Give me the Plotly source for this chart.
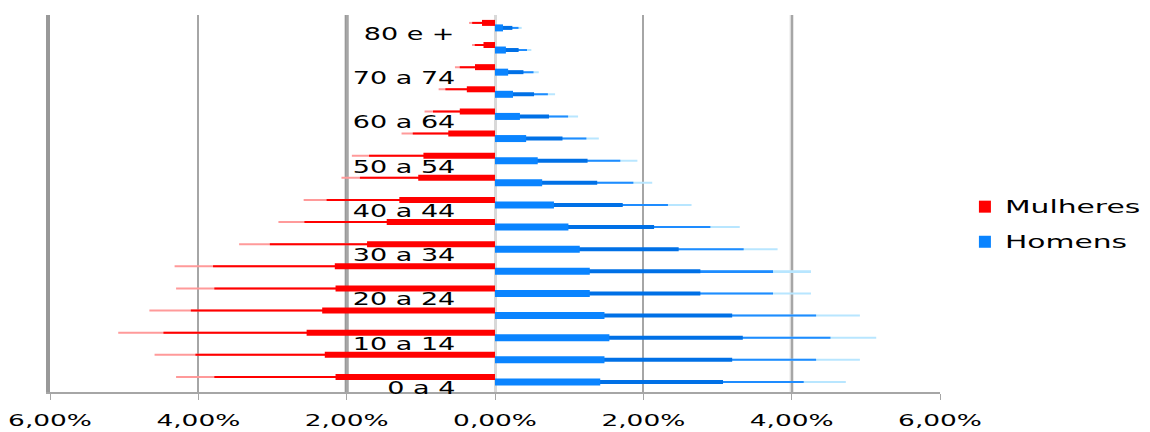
import plotly.graph_objects as go

# Age groups, bottom to top
faixas = ["0 a 4", "5 a 9", "10 a 14", "15 a 19", "20 a 24", "25 a 29", "30 a 34",
          "35 a 39", "40 a 44", "45 a 49", "50 a 54", "55 a 59", "60 a 64",
          "65 a 69", "70 a 74", "75 a 79", "80 e +"]
# Share of total population (%)
mulheres = [4.30, 4.59, 5.08, 4.66, 4.30, 4.32, 3.45, 2.92, 2.58, 2.07,
            1.93, 1.26, 0.95, 0.76, 0.54, 0.31, 0.35]
homens = [4.73, 4.92, 5.14, 4.92, 4.26, 4.26, 3.81, 3.30, 2.65, 2.12,
          1.92, 1.40, 1.12, 0.81, 0.59, 0.49, 0.36]
# Axis ticks
tick_vals = [-6, -4, -2, 0, 2, 4, 6]
tick_text = ["6,00%", "4,00%", "2,00%", "0,00%", "2,00%", "4,00%", "6,00%"]

FONT = "DejaVu Sans"
PX = 1 / 22.125  # one pixel in category units
pos = list(range(len(faixas)))

fig = go.Figure()

# Heavier / lighter vertical guides at selected ticks
for xv, col, wd in [(-2, "#999999", 4), (4, "#DCDCDC", 4)]:
    fig.add_shape(type="line", xref="x", yref="paper", x0=xv, x1=xv,
                  y0=0, y1=1, line=dict(color=col, width=wd), layer="below")

# Each bar is drawn as layered strokes that thin out toward its tip
series = [
    ("Mulheres", mulheres, -1, +2.5 * PX,
     [(1.00, 2, "#FF9A9A"), (0.88, 2, "#FF0000"), (0.50, 6, "#FF0000")]),
    ("Homens", homens, +1, -2.5 * PX,
     [(1.00, 2, "#B8E6FF"), (0.88, 2, "#1E8CFF"), (0.65, 4, "#0070E6"),
      (0.30, 7, "#0A84FF")]),
]
for name, vals, sign, center, layers in series:
    for k, (frac, thick, color) in enumerate(layers):
        w = thick * PX
        fig.add_trace(go.Bar(
            y=pos, x=[sign * v * frac for v in vals], orientation="h",
            width=w, offset=center - w / 2,
            marker=dict(color=color, line=dict(width=0)),
            name=name, legendgroup=name,
            showlegend=(k == len(layers) - 1),
            hoverinfo="skip",
        ))

# Age labels (every other group), placed just left of the centre line
for i, lab in enumerate(faixas):
    if i % 2 == 0:
        fig.add_annotation(x=0, y=i, text=lab, showarrow=False,
                           xanchor="right", xshift=-38, yshift=-8,
                           font=dict(family=FONT, size=18, color="#000000"))

fig.update_layout(
    width=1150, height=432,
    margin=dict(l=50, r=210, t=15, b=40),
    paper_bgcolor="white", plot_bgcolor="white",
    barmode="overlay",
    font=dict(family=FONT, size=16, color="#000000"),
    legend=dict(x=1.028, y=0.444, xanchor="left", yanchor="middle",
                font=dict(family=FONT, size=17), traceorder="grouped",
                tracegroupgap=10, bgcolor="rgba(0,0,0,0)"),
    xaxis=dict(range=[-6, 6], tickvals=tick_vals, ticktext=tick_text,
               showgrid=True, gridcolor="#A6A6A6", gridwidth=2,
               zeroline=True, zerolinecolor="#D9D9D9", zerolinewidth=3,
               showline=True, linecolor="#A6A6A6", linewidth=2,
               ticks="outside", ticklen=6, tickcolor="#A6A6A6",
               ticklabelstandoff=7, tickfont=dict(family=FONT, size=16),
               automargin=False, fixedrange=True),
    yaxis=dict(range=[-0.565, 16.47], showticklabels=False, showgrid=False,
               zeroline=False, showline=True, linecolor="#999999",
               linewidth=4, automargin=False, fixedrange=True),
)

# Widen the lettering horizontally (wide, stretched type)
stretch_js = """
var gd = document.getElementById('{plot_id}');
function stretch(sel, s, mode) {
  gd.querySelectorAll(sel).forEach(function (t) {
    var b = t.getBBox();
    var ax = mode === 'l' ? b.x : (mode === 'r' ? b.x + b.width : b.x + b.width / 2);
    var tr = t.getAttribute('transform') || '';
    t.setAttribute('transform', tr + ' translate(' + ax + ',0) scale(' + s + ',1) translate(' + (-ax) + ',0)');
  });
}
gd.querySelectorAll('.legend [clip-path]').forEach(function (e) {
  e.removeAttribute('clip-path');
});
stretch('.xtick text', 1.65, 'c');
stretch('.annotation-text', 1.5, 'r');
stretch('.legendtext', 1.75, 'l');
"""

fig.write_html("out.html", post_script=stretch_js)
